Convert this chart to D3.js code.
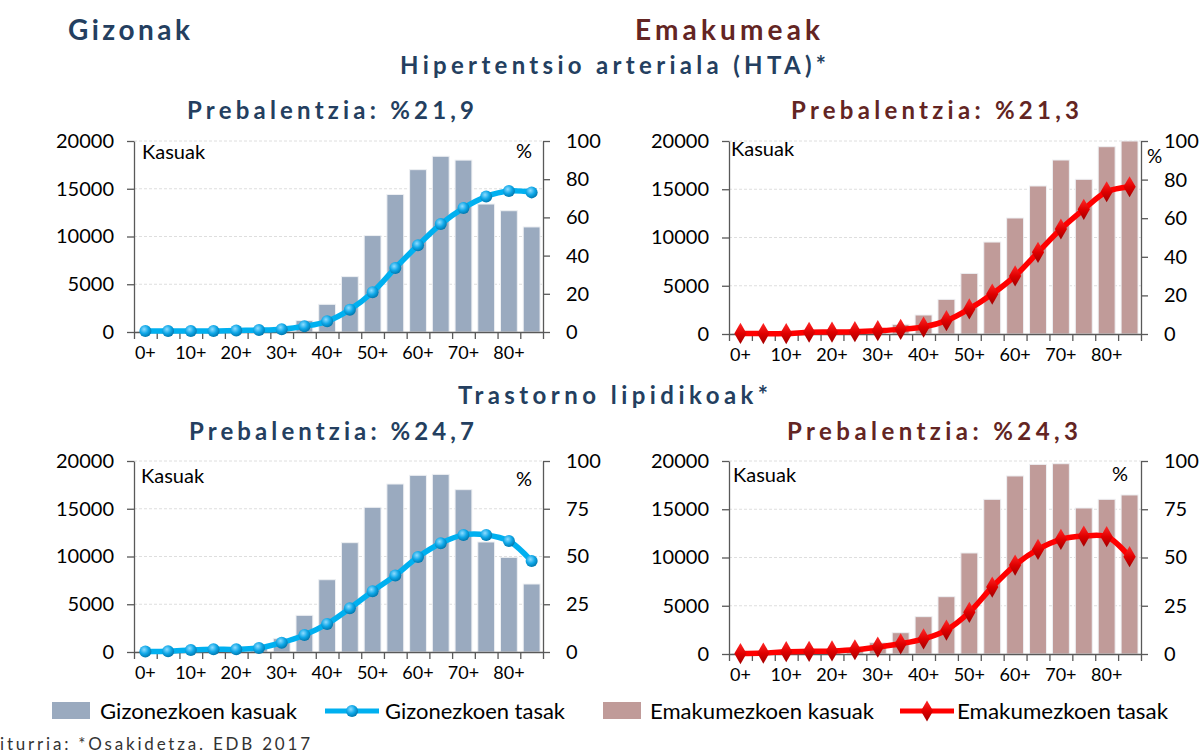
<!DOCTYPE html>
<html>
<head>
<meta charset="utf-8">
<script src="https://cdn.jsdelivr.net/npm/d3@7"></script>
<style>
  body { margin: 0; background: #fff; }
  svg { display: block; }
  text { font-family: Lato, "Open Sans", sans-serif; }
</style>
</head>
<body>
<svg id="chart" width="1201" height="754"></svg>
<script>
// age groups (5-year bands), only every other one gets a label
const ages = ["0+","5+","10+","15+","20+","25+","30+","35+","40+","45+","50+","55+","60+","65+","70+","75+","80+","85+"];

// Hipertentsio arteriala (HTA)
const htaMaleCases   = [30, 40, 60, 90, 150, 250, 500, 1200, 2900, 5800, 10100, 14400, 17000, 18400, 18000, 13400, 12700, 11000];
const htaMaleRate    = [0.5, 0.5, 0.5, 0.5, 0.8, 1.0, 1.5, 3.0, 5.6, 11.7, 20.8, 33.5, 45.4, 56.5, 64.9, 70.9, 73.8, 73.1];
const htaFemaleCases = [20, 30, 50, 100, 150, 250, 450, 1000, 1970, 3590, 6280, 9530, 12020, 15340, 18030, 16030, 19410, 20000];
const htaFemaleRate  = [0.3, 0.2, 0.2, 0.9, 1.0, 1.2, 1.7, 2.4, 3.6, 6.9, 13.0, 20.7, 30.1, 42.3, 54.4, 64.6, 73.7, 76.3];

// Trastorno lipidikoak
const lipMaleCases   = [50, 100, 150, 250, 350, 600, 1400, 3840, 7570, 11450, 15150, 17590, 18500, 18600, 17000, 11520, 9910, 7120];
const lipMaleRate    = [0.3, 0.4, 1.0, 1.4, 1.4, 2.1, 4.9, 8.9, 14.7, 22.9, 31.8, 40.1, 49.7, 56.9, 61.3, 61.3, 58.1, 47.6];
const lipFemaleCases = [40, 80, 150, 250, 350, 600, 1170, 2210, 3870, 5940, 10470, 16030, 18450, 19650, 19720, 15130, 16030, 16480];
const lipFemaleRate  = [0.2, 0.5, 1.2, 1.4, 1.6, 2.2, 3.6, 5.3, 7.8, 12.4, 21.6, 34.7, 46.1, 54.2, 59.4, 61.1, 60.8, 50.4];

const caseTicks = [0, 5000, 10000, 15000, 20000];
const htaRateTicks = [0, 20, 40, 60, 80, 100];
const lipRateTicks = [0, 25, 50, 75, 100];

const legendItems = ["Gizonezkoen kasuak", "Gizonezkoen tasak", "Emakumezkoen kasuak", "Emakumezkoen tasak"];

const blueDark = "#243f60", redDark = "#632523";
const maleBar = "#9aaabf", femaleBar = "#c09b99";
const maleLine = "#00b0f0", femaleLine = "#ff0000";
const axisCol = "#595959";

const svg = d3.select("#chart");
const defs = svg.append("defs");

const gb = defs.append("radialGradient").attr("id", "dotBlue").attr("cx", "40%").attr("cy", "35%").attr("r", "65%");
gb.append("stop").attr("offset", "0%").attr("stop-color", "#8fdcff");
gb.append("stop").attr("offset", "55%").attr("stop-color", "#10a8e8");
gb.append("stop").attr("offset", "100%").attr("stop-color", "#0079b0");

const gr = defs.append("linearGradient").attr("id", "dotRed").attr("x1", 0).attr("y1", 0).attr("x2", 0).attr("y2", 1);
gr.append("stop").attr("offset", "0%").attr("stop-color", "#ff2a2a");
gr.append("stop").attr("offset", "50%").attr("stop-color", "#e00000");
gr.append("stop").attr("offset", "100%").attr("stop-color", "#a00000");

const diamond = d3.symbol().type(d3.symbolDiamond).size(130);

function title(txt, x, y, w, size, color) {
  svg.append("text")
    .attr("x", x).attr("y", y)
    .attr("font-size", size).attr("font-weight", 700)
    .attr("fill", color)
    .attr("textLength", w).attr("lengthAdjust", "spacing")
    .text(txt);
}

function panel(o) {
  const g = svg.append("g");

  const xb = d3.scaleBand().domain(ages).range([o.x0, o.x1]).paddingInner(0.26).paddingOuter(0.13);
  const xl = d3.scaleLinear().domain([0, ages.length]).range([o.x0, o.x1]);
  const yL = d3.scaleLinear().domain([0, 20000]).range([o.y1, o.y0]);
  const yR = d3.scaleLinear().domain([0, 100]).range([o.y1, o.y0]);

  // grid
  g.append("g").selectAll("line")
    .data(caseTicks.slice(1))
    .join("line")
    .attr("x1", o.x0).attr("x2", o.x1)
    .attr("y1", d => yL(d)).attr("y2", d => yL(d))
    .attr("stroke", "#dedede").attr("stroke-dasharray", "3,2");

  // bars
  g.append("g").selectAll("rect")
    .data(o.cases)
    .join("rect")
    .attr("x", (d, i) => xb(ages[i]))
    .attr("width", xb.bandwidth())
    .attr("y", d => yL(Math.min(d, 20000)))
    .attr("height", d => o.y1 - yL(Math.min(d, 20000)))
    .attr("fill", o.barColor)
    .attr("stroke", "#eef0f3").attr("stroke-width", 1);

  // axes
  const left = g.append("g").attr("transform", `translate(${o.x0},0)`)
    .call(d3.axisLeft(yL).tickValues(caseTicks).tickSize(7).tickSizeOuter(0).tickPadding(13).tickFormat(d3.format("d")));
  const right = g.append("g").attr("transform", `translate(${o.x1},0)`)
    .call(d3.axisRight(yR).tickValues(o.rateTicks).tickSize(7).tickSizeOuter(0).tickPadding(16));
  const bottom = g.append("g").attr("transform", `translate(0,${o.y1})`)
    .call(d3.axisBottom(xl).tickValues(d3.range(ages.length + 1)).tickSize(7).tickSizeOuter(0).tickFormat(""));
  const labels = g.append("g").attr("transform", `translate(0,${o.y1})`)
    .call(d3.axisBottom(xb).tickSize(0).tickPadding(14).tickFormat((d, i) => i % 2 === 0 ? d : ""));
  labels.select(".domain").remove();

  [left, right, bottom].forEach(a => {
    a.selectAll("path,line").attr("stroke", axisCol).attr("stroke-width", 1.3);
  });
  [left, right, labels].forEach(a => {
    a.selectAll("text").attr("font-family", "Lato, sans-serif").attr("font-size", 20).attr("fill", "#000");
  });
  labels.selectAll("text").attr("font-size", 18);

  // rate line
  const line = d3.line()
    .x((d, i) => xb(ages[i]) + xb.bandwidth() / 2)
    .y(d => yR(d))
    .curve(d3.curveCatmullRom.alpha(0.5));
  g.append("path").datum(o.rates)
    .attr("d", line)
    .attr("fill", "none").attr("stroke", o.lineColor).attr("stroke-width", 5.5)
    .attr("stroke-linejoin", "round");

  if (o.marker === "circle") {
    g.append("g").selectAll("circle")
      .data(o.rates)
      .join("circle")
      .attr("cx", (d, i) => xb(ages[i]) + xb.bandwidth() / 2)
      .attr("cy", d => yR(d))
      .attr("r", 6)
      .attr("fill", "url(#dotBlue)");
  } else {
    g.append("g").selectAll("path")
      .data(o.rates)
      .join("path")
      .attr("transform", (d, i) => `translate(${xb(ages[i]) + xb.bandwidth() / 2},${yR(d)})`)
      .attr("d", diamond)
      .attr("fill", "url(#dotRed)");
  }

  g.append("text").attr("x", o.kx).attr("y", o.ky).attr("font-size", 20).text("Kasuak");
  g.append("text").attr("x", o.px).attr("y", o.py).attr("font-size", o.ps || 20).text("%");
}

// headings
title("Gizonak", 68, 40, 122, 28, blueDark);
title("Emakumeak", 635, 40, 185, 28, redDark);
title("Hipertentsio arteriala (HTA)*", 400, 74, 426, 24, blueDark);
title("Prebalentzia: %21,9", 187, 119, 287, 24, blueDark);
title("Prebalentzia: %21,3", 791, 119, 288, 24, redDark);
title("Trastorno lipidikoak*", 458, 404, 310, 24, blueDark);
title("Prebalentzia: %24,7", 189, 440, 285, 24, blueDark);
title("Prebalentzia: %24,3", 787, 440, 291, 24, redDark);

panel({ x0: 134, x1: 543, y0: 141, y1: 332, cases: htaMaleCases, rates: htaMaleRate, rateTicks: htaRateTicks,
  barColor: maleBar, lineColor: maleLine, marker: "circle", kx: 142, ky: 159, px: 516, py: 158 });
panel({ x0: 729, x1: 1141, y0: 141, y1: 334, cases: htaFemaleCases, rates: htaFemaleRate, rateTicks: htaRateTicks,
  barColor: femaleBar, lineColor: femaleLine, marker: "diamond", kx: 731, ky: 156, px: 1147, py: 163, ps: 19 });
panel({ x0: 134, x1: 543, y0: 461, y1: 652, cases: lipMaleCases, rates: lipMaleRate, rateTicks: lipRateTicks,
  barColor: maleBar, lineColor: maleLine, marker: "circle", kx: 141, ky: 483, px: 516, py: 486 });
panel({ x0: 729, x1: 1141, y0: 461, y1: 654, cases: lipFemaleCases, rates: lipFemaleRate, rateTicks: lipRateTicks,
  barColor: femaleBar, lineColor: femaleLine, marker: "diamond", kx: 733, ky: 482, px: 1112, py: 481 });

// legend
const lg = svg.append("g");
const ly = 711;
lg.append("rect").attr("x", 52).attr("y", ly - 9).attr("width", 38).attr("height", 17).attr("fill", maleBar);
lg.append("line").attr("x1", 325).attr("x2", 379).attr("y1", ly).attr("y2", ly).attr("stroke", maleLine).attr("stroke-width", 5);
lg.append("circle").attr("cx", 352).attr("cy", ly).attr("r", 6).attr("fill", "url(#dotBlue)");
lg.append("rect").attr("x", 603).attr("y", ly - 9).attr("width", 38).attr("height", 17).attr("fill", femaleBar);
lg.append("line").attr("x1", 900).attr("x2", 954).attr("y1", ly).attr("y2", ly).attr("stroke", femaleLine).attr("stroke-width", 5);
lg.append("path").attr("transform", `translate(927,${ly})`).attr("d", diamond).attr("fill", "url(#dotRed)");

const legendX = [100, 385, 650, 957];
const legendW = [197, 180, 224, 211];
lg.selectAll("text.leg")
  .data(legendItems)
  .join("text")
  .attr("class", "leg")
  .attr("x", (d, i) => legendX[i]).attr("y", ly + 8)
  .attr("font-size", 21)
  .attr("textLength", (d, i) => legendW[i]).attr("lengthAdjust", "spacingAndGlyphs")
  .text(d => d);

svg.append("text").attr("x", 0).attr("y", 750)
  .attr("font-size", 17).attr("fill", "#333")
  .attr("textLength", 310).attr("lengthAdjust", "spacing")
  .text("iturria: *Osakidetza. EDB 2017");
</script>
</body>
</html>
